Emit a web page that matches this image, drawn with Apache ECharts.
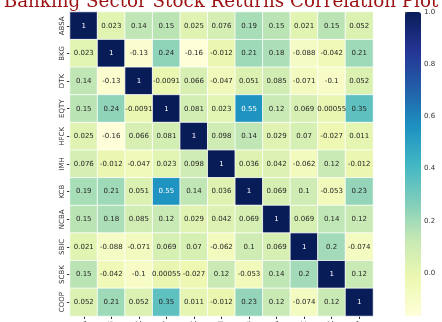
<!DOCTYPE html>
<html><head><meta charset="utf-8">
<script src="https://cdn.jsdelivr.net/npm/echarts@6/dist/echarts.min.js"></script>
<style>html,body{margin:0;padding:0;background:#fff}#c{width:442px;height:322px}</style>
</head><body><div id="c"></div>
<script>
const tickers = ['ABSA','BKG','DTK','EQTY','HFCK','IMH','KCB','NCBA','SBIC','SCBK','COOP'];
const rowABSA = [1, 0.023, 0.14, 0.15, 0.025, 0.076, 0.19, 0.15, 0.021, 0.15, 0.052];
const rowBKG  = [0.023, 1, -0.13, 0.24, -0.16, -0.012, 0.21, 0.18, -0.088, -0.042, 0.21];
const rowDTK  = [0.14, -0.13, 1, -0.0091, 0.066, -0.047, 0.051, 0.085, -0.071, -0.1, 0.052];
const rowEQTY = [0.15, 0.24, -0.0091, 1, 0.081, 0.023, 0.55, 0.12, 0.069, 0.00055, 0.35];
const rowHFCK = [0.025, -0.16, 0.066, 0.081, 1, 0.098, 0.14, 0.029, 0.07, -0.027, 0.011];
const rowIMH  = [0.076, -0.012, -0.047, 0.023, 0.098, 1, 0.036, 0.042, -0.062, 0.12, -0.012];
const rowKCB  = [0.19, 0.21, 0.051, 0.55, 0.14, 0.036, 1, 0.069, 0.1, -0.053, 0.23];
const rowNCBA = [0.15, 0.18, 0.085, 0.12, 0.029, 0.042, 0.069, 1, 0.069, 0.14, 0.12];
const rowSBIC = [0.021, -0.088, -0.071, 0.069, 0.07, -0.062, 0.1, 0.069, 1, 0.2, -0.074];
const rowSCBK = [0.15, -0.042, -0.1, 0.00055, -0.027, 0.12, -0.053, 0.14, 0.2, 1, 0.12];
const rowCOOP = [0.052, 0.21, 0.052, 0.35, 0.011, -0.012, 0.23, 0.12, -0.074, 0.12, 1];
const colorbarTicks = [0.0, 0.2, 0.4, 0.6, 0.8, 1.0];
const vMin = -0.165, vMax = 1;

const rows = [rowABSA,rowBKG,rowDTK,rowEQTY,rowHFCK,rowIMH,rowKCB,rowNCBA,rowSBIC,rowSCBK,rowCOOP];
const data = [];
rows.forEach((r, i) => r.forEach((v, j) => data.push([j, i, v])));
const YlGnBu = ['#ffffd9','#edf8b1','#c7e9b4','#7fcdbb','#41b6c4','#1d91c0','#225ea8','#253494','#081d58'];

const chart = echarts.init(document.getElementById('c'), null, {renderer: 'canvas'});
chart.setOption({
  animation: false,
  backgroundColor: '#fff',
  title: {
    text: 'Banking Sector Stock Returns Correlation Plot',
    left: 'center', top: -12, padding: [5, 0, 5, 0],
    textStyle: {fontFamily: 'DejaVu Serif', fontSize: 18.3, fontWeight: 'normal', color: '#9b1212'}
  },
  grid: [
    {left: 70, top: 12, width: 303, height: 304, outerBoundsMode: 'none', containLabel: false},
    {left: 405, top: 12, width: 16, height: 304, show: false, outerBoundsMode: 'none', containLabel: false}
  ],
  xAxis: [
    {type: 'category', data: tickers, gridIndex: 0, position: 'bottom',
     axisLine: {show: false}, splitLine: {show: false},
     axisTick: {show: true, alignWithLabel: true, length: 3, lineStyle: {color: '#333'}},
     axisLabel: {interval: 0, rotate: 90, fontSize: 7, color: '#333', fontFamily: 'DejaVu Sans', margin: 5}},
    {type: 'value', gridIndex: 1, show: false, min: 0, max: 1}
  ],
  yAxis: [
    {type: 'category', data: tickers, inverse: true, gridIndex: 0,
     axisLine: {show: false}, splitLine: {show: false},
     axisTick: {show: true, alignWithLabel: true, length: 3, lineStyle: {color: '#333'}},
     axisLabel: {interval: 0, rotate: 90, fontSize: 7, color: '#333', fontFamily: 'DejaVu Sans', margin: 4}},
    {type: 'value', gridIndex: 1, position: 'right', min: vMin, max: vMax,
     axisLine: {show: false}, splitLine: {show: false},
     axisTick: {show: true, length: 3, customValues: colorbarTicks, lineStyle: {color: '#333'}},
     axisLabel: {customValues: colorbarTicks, fontSize: 7, color: '#333', fontFamily: 'DejaVu Sans', margin: 3,
       formatter: v => v.toFixed(1)}}
  ],
  visualMap: {
    type: 'continuous', min: vMin, max: vMax, calculable: false, realtime: false,
    seriesIndex: 0, orient: 'vertical', left: 405, top: 12, itemWidth: 16, itemHeight: 304,
    padding: 0, text: null, showLabel: false, hoverLink: false,
    inRange: {color: YlGnBu}
  },
  series: [{
    type: 'heatmap', xAxisIndex: 0, yAxisIndex: 0,
    data: data.map(d => ({value: d, label: {color: d[2] > 0.5 ? '#fff' : '#262626'}})),
    itemStyle: {borderColor: '#fff', borderWidth: 0.8},
    label: {show: true, fontSize: 7, fontFamily: 'DejaVu Sans',
      formatter: p => String(p.value[2])},
    emphasis: {disabled: true}
  }]
});
</script></body></html>
